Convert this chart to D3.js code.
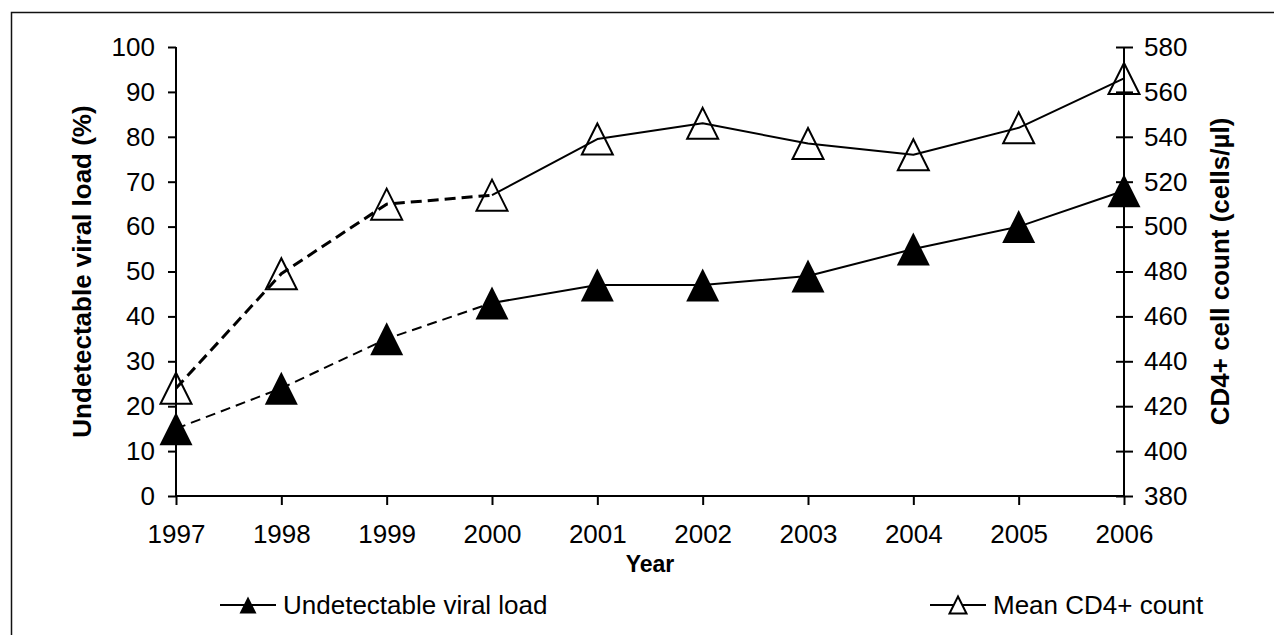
<!DOCTYPE html>
<html>
<head>
<meta charset="utf-8">
<script src="https://cdn.jsdelivr.net/npm/d3@7"></script>
<style>
  html, body { margin: 0; padding: 0; background: #fff; }
  svg { display: block; }
  text { font-family: Arial, "Liberation Sans", sans-serif; fill: #000; }
</style>
</head>
<body>
<script>
//Data
const years = [1997, 1998, 1999, 2000, 2001, 2002, 2003, 2004, 2005, 2006];
const viralLoad = [15, 24, 35, 43, 47, 47, 49, 55, 60, 68];
const cd4Count = [428, 479, 510, 514, 539, 546, 537, 532, 544, 566];
const leftTicks = [0, 10, 20, 30, 40, 50, 60, 70, 80, 90, 100];
const rightTicks = [380, 400, 420, 440, 460, 480, 500, 520, 540, 560, 580];
const lastDashedYear = 2000;
const seriesNames = ["Undetectable viral load", "Mean CD4+ count"];

//Variables
const width = 1274;
const height = 635;
const plot = {left: 176, right: 1124, top: 47, bottom: 496};

const svg = d3.select("body")
  .append("svg")
  .attr("width", width)
  .attr("height", height);

//Frame (only top and left edges show)
svg.append("rect")
  .attr("x", 11.5).attr("y", 12.5)
  .attr("width", 1400).attr("height", 800)
  .attr("fill", "none").attr("stroke", "#111").attr("stroke-width", 1.5);

//Scales
const x = d3.scaleLinear().domain([1997, 2006]).range([plot.left, plot.right]);
const yLeft = d3.scaleLinear().domain([0, 100]).range([plot.bottom, plot.top]);
const yRight = d3.scaleLinear().domain([380, 580]).range([plot.bottom, plot.top]);

//Axes
const xAxis = svg.append("g")
  .attr("transform", `translate(0,${plot.bottom})`)
  .call(d3.axisBottom(x).tickValues(years).tickFormat(d3.format("d")).tickSize(9).tickPadding(20));

const leftAxis = svg.append("g")
  .attr("transform", `translate(${plot.left},0)`)
  .call(d3.axisLeft(yLeft).tickValues(leftTicks).tickSize(8).tickPadding(13));

const rightAxis = svg.append("g")
  .attr("transform", `translate(${plot.right},0)`)
  .call(d3.axisRight(yRight).tickValues(rightTicks).tickSize(9).tickPadding(11));

rightAxis.selectAll(".tick line").attr("x1", -8);

[xAxis, leftAxis, rightAxis].forEach(g => {
  g.select(".domain").attr("stroke", "#000").attr("stroke-width", 2);
  g.selectAll(".tick line").attr("stroke", "#000").attr("stroke-width", 2);
  g.selectAll(".tick text")
    .style("font-size", "26px")
    .style("font-family", "Arial, 'Liberation Sans', sans-serif")
    .attr("fill", "#000");
});
xAxis.select(".domain").attr("d", `M${plot.left},0H${plot.right}`);
leftAxis.select(".domain").attr("d", `M0,${plot.bottom}V${plot.top}`);
rightAxis.select(".domain").attr("d", `M0,${plot.bottom}V${plot.top}`);

//Axis titles
svg.append("text")
  .attr("transform", `translate(82,${(plot.top + plot.bottom) / 2}) rotate(-90)`)
  .attr("text-anchor", "middle").attr("dominant-baseline", "central")
  .style("font-size", "26px").style("font-weight", "bold")
  .text("Undetectable viral load (%)");

svg.append("text")
  .attr("transform", `translate(1220,${(plot.top + plot.bottom) / 2}) rotate(-90)`)
  .attr("text-anchor", "middle").attr("dominant-baseline", "central")
  .style("font-size", "26px").style("font-weight", "bold")
  .text("CD4+ cell count (cells/µl)");

svg.append("text")
  .attr("x", (plot.left + plot.right) / 2).attr("y", 572)
  .attr("text-anchor", "middle")
  .style("font-size", "23px").style("font-weight", "bold")
  .text("Year");

//Lines
const viralPts = years.map((yr, i) => [x(yr), yLeft(viralLoad[i])]);
const cd4Pts = years.map((yr, i) => [x(yr), yRight(cd4Count[i])]);
const cut = years.indexOf(lastDashedYear);
const line = d3.line();

function drawSeries(pts, dashWidth, dash) {
  svg.append("path")
    .attr("d", line(pts.slice(0, cut + 1)))
    .attr("fill", "none").attr("stroke", "#000")
    .attr("stroke-width", dashWidth).attr("stroke-dasharray", dash);
  svg.append("path")
    .attr("d", line(pts.slice(cut)))
    .attr("fill", "none").attr("stroke", "#000")
    .attr("stroke-width", 2).attr("stroke-linejoin", "round");
}
drawSeries(cd4Pts, 3, "11,6");
drawSeries(viralPts, 2, "10,6");

//Markers
const tri = (s) => `M0,${-s}L${s},${s}L${-s},${s}Z`;

svg.selectAll(".open")
  .data(cd4Pts)
  .join("path")
  .attr("class", "open")
  .attr("transform", d => `translate(${d[0]},${d[1]})`)
  .attr("d", tri(15.5))
  .attr("fill", "none").attr("stroke", "#000").attr("stroke-width", 2);

svg.selectAll(".filled")
  .data(viralPts)
  .join("path")
  .attr("class", "filled")
  .attr("transform", d => `translate(${d[0]},${d[1]})`)
  .attr("d", tri(16.5))
  .attr("fill", "#000");

//Legend
const legend = [
  {name: seriesNames[0], x0: 220, filled: true},
  {name: seriesNames[1], x0: 930, filled: false}
];
const ly = 605;
legend.forEach(l => {
  const g = svg.append("g").attr("transform", `translate(${l.x0},${ly})`);
  g.append("line").attr("x1", 0).attr("x2", 56)
    .attr("stroke", "#000").attr("stroke-width", 2);
  g.append("path")
    .attr("transform", "translate(28,0)")
    .attr("d", tri(8.5))
    .attr("fill", l.filled ? "#000" : "#fff")
    .attr("stroke", "#000").attr("stroke-width", l.filled ? 0 : 2);
  g.append("text")
    .attr("x", 63).attr("dominant-baseline", "central")
    .style("font-size", "26px")
    .text(l.name);
});
</script>
</body>
</html>
